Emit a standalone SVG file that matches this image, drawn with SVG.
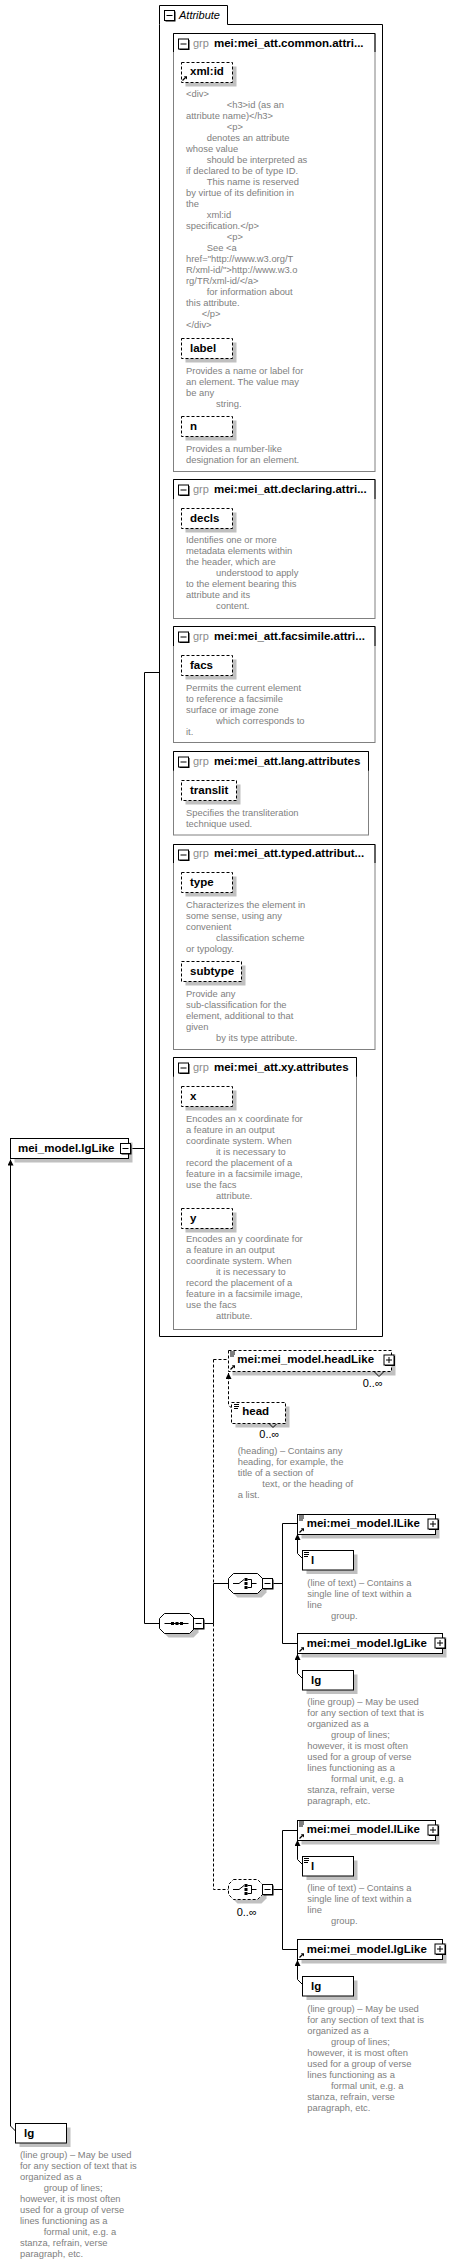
<svg xmlns="http://www.w3.org/2000/svg" xmlns:xlink="http://www.w3.org/1999/xlink" width="455" height="2267" viewBox="0 0 455 2267">
<style>
text{font-family:"Liberation Sans",Arial,sans-serif}
.d{font-size:9.4px;fill:#808080}
.b{font-size:11.5px;font-weight:bold;fill:#000}
.gt{font-size:11px;fill:#8c8c8c}
.oc{font-size:11px;fill:#000}
.ln{fill:none;stroke:#000;stroke-width:1}
.dl{fill:none;stroke:#000;stroke-width:1;stroke-dasharray:3,2}
.box{fill:#fff;stroke:#000;stroke-width:1}
.dbox{fill:#fff;stroke:#000;stroke-width:1;stroke-dasharray:3,2}
.sh{fill:#c0c0c0}
.gb{fill:#fff;stroke:#808080;stroke-width:1}
</style>
<defs>
<marker id="ar" viewBox="0 0 6 6" refX="6" refY="3" markerWidth="6" markerHeight="6" markerUnits="userSpaceOnUse" orient="auto"><path d="M0,0L6,3L0,6z" fill="#000"/></marker>
<g id="im"><rect x="1.5" y="1.5" width="10" height="10" fill="#000"/><rect x="0.5" y="0.5" width="10" height="10" fill="#fff" stroke="#000"/><path d="M2.5,5.5H8.5" stroke="#000"/></g>
<g id="ip"><rect x="1.5" y="1.5" width="10" height="10" fill="#000"/><rect x="0.5" y="0.5" width="10" height="10" fill="#fff" stroke="#000"/><path d="M2.5,5.5H8.5M5.5,2.5V8.5" stroke="#000"/></g>
<g id="ieq"><path d="M0,0.5H5M0,2.5H5M0,4.5H4" stroke="#000" stroke-width="1"/></g>
<g id="iref"><path d="M0.5,5L3.5,2" stroke="#000" stroke-width="1.2"/><path d="M1.8,0.8L5,0.8L5,4z" fill="#000"/></g>
<g id="seqi"><path d="M5,10H29" stroke="#000"/><rect x="11.5" y="8.5" width="3" height="3" fill="#000"/><rect x="16" y="8.5" width="3" height="3" fill="#000"/><rect x="20.5" y="8.5" width="3" height="3" fill="#000"/></g>
<g id="choi"><path d="M4.5,10H10.5L15.5,6" stroke="#000" fill="none"/><rect x="16" y="4.5" width="3" height="3" fill="#000"/><rect x="16" y="8.5" width="3" height="3" fill="#000"/><rect x="16" y="12.5" width="3" height="3" fill="#000"/><path d="M19,6H23V14H19M23,10H28" stroke="#000" fill="none"/></g>
</defs>

<!-- connectors -->
<g id="connectors">
<path class="ln" d="M131.5,1148.5H144.5M144.5,672.5V1623.5M144.5,672.5H159.5M144.5,1623.5H159.5M204.5,1623.5H213.5"/>
<path class="dl" d="M213.5,1359.5V1583.5M213.5,1359.5H228.5"/>
<path class="ln" d="M213.5,1583.5V1623.5M213.5,1583.5H228.5"/>
<path class="dl" d="M213.5,1623.5V1889.5H228.5"/>
<path class="ln" d="M273.5,1583.5H282.5M282.5,1523.5V1643.5M282.5,1523.5H297.5M282.5,1643.5H297.5"/>
<path class="ln" d="M273.5,1889.5H282.5M282.5,1830.5V1949.5M282.5,1830.5H297.5M282.5,1949.5H297.5"/>
<polyline class="dl" points="231.5,1408 228.5,1405 228.5,1373" marker-end="url(#ar)"/>
<polyline class="ln" points="302.5,1558.5 297.5,1553.5 297.5,1534" marker-end="url(#ar)"/>
<polyline class="ln" points="302.5,1678.5 297.5,1673.5 297.5,1654" marker-end="url(#ar)"/>
<polyline class="ln" points="302.5,1864.5 297.5,1859.5 297.5,1840" marker-end="url(#ar)"/>
<polyline class="ln" points="302.5,1984.5 297.5,1979.5 297.5,1960" marker-end="url(#ar)"/>
<polyline class="ln" points="15.5,2131 10.5,2126 10.5,1159.5" marker-end="url(#ar)"/>
</g>

<!-- top node -->
<g id="n-lgLike-root">
<rect class="sh" x="14.5" y="1142.5" width="118" height="20"/>
<rect class="box" x="10.5" y="1138.5" width="118" height="20"/>
<text class="b" x="18" y="1151.5">mei_model.lgLike</text>
<use xlink:href="#im" x="120" y="1143"/>
</g>

<!-- Attribute container -->
<g id="n-attributes">
<path d="M159.5,24.5V5.5H227.5V24.5H382.5V1336.5H159.5Z" fill="#fff" stroke="#000"/>
<use xlink:href="#im" x="164" y="10"/>
<text x="179" y="18.5" style="font-size:11px;font-style:italic">Attribute</text>
</g>

<g id="n-g1">
<rect class="gb" x="173.5" y="33.5" width="201.5" height="438"/>
<path class="ln" d="M173.5,52V33.5H375V52"/>
<use xlink:href="#im" x="178" y="38.5"/>
<text class="gt" x="193" y="46.7">grp</text>
<text class="b" x="214" y="46.7">mei:mei_att.common.attri...</text>
<g id="a-xmlid">
<rect class="sh" x="185.5" y="66.5" width="51" height="20"/>
<rect class="dbox" x="181.5" y="62.5" width="51" height="20"/>
<use xlink:href="#iref" x="182" y="75.5"/>
<text class="b" x="190" y="75.2">xml:id</text>
</g>
<text class="d" x="186" y="97">&lt;div&gt;</text>
<text class="d" x="226.7" y="108">&lt;h3&gt;id (as an</text>
<text class="d" x="186" y="119">attribute name)&lt;/h3&gt;</text>
<text class="d" x="226.7" y="130">&lt;p&gt;</text>
<text class="d" x="206.7" y="141">denotes an attribute</text>
<text class="d" x="186" y="152">whose value</text>
<text class="d" x="206.7" y="163">should be interpreted as</text>
<text class="d" x="186" y="174">if declared to be of type ID.</text>
<text class="d" x="206.7" y="185">This name is reserved</text>
<text class="d" x="186" y="196">by virtue of its definition in</text>
<text class="d" x="186" y="207">the</text>
<text class="d" x="206.7" y="218">xml:id</text>
<text class="d" x="186" y="229">specification.&lt;/p&gt;</text>
<text class="d" x="226.7" y="240">&lt;p&gt;</text>
<text class="d" x="206.7" y="251">See &lt;a</text>
<text class="d" x="186" y="262">href="http://www.w3.org/T</text>
<text class="d" x="186" y="273">R/xml-id/"&gt;http://www.w3.o</text>
<text class="d" x="186" y="284">rg/TR/xml-id/&lt;/a&gt;</text>
<text class="d" x="206.7" y="295">for information about</text>
<text class="d" x="186" y="306">this attribute.</text>
<text class="d" x="201.7" y="317">&lt;/p&gt;</text>
<text class="d" x="186" y="328">&lt;/div&gt;</text>
<g id="a-label">
<rect class="sh" x="185.5" y="342.5" width="51" height="20"/>
<rect class="dbox" x="181.5" y="338.5" width="51" height="20"/>
<text class="b" x="190" y="351.7">label</text>
</g>
<text class="d" x="186" y="374">Provides a name or label for</text>
<text class="d" x="186" y="385">an element. The value may</text>
<text class="d" x="186" y="396">be any</text>
<text class="d" x="216" y="407">string.</text>
<g id="a-n">
<rect class="sh" x="185.5" y="420.5" width="51" height="20"/>
<rect class="dbox" x="181.5" y="416.5" width="51" height="20"/>
<text class="b" x="190" y="429.7">n</text>
</g>
<text class="d" x="186" y="451.7">Provides a number-like</text>
<text class="d" x="186" y="462.7">designation for an element.</text>
</g>

<g id="n-g2">
<rect class="gb" x="173.5" y="479.5" width="201.5" height="139"/>
<path class="ln" d="M173.5,499V479.5H375V499"/>
<use xlink:href="#im" x="178" y="484.5"/>
<text class="gt" x="193" y="492.7">grp</text>
<text class="b" x="214" y="492.7">mei:mei_att.declaring.attri...</text>
<g id="a-decls">
<rect class="sh" x="185.5" y="512.5" width="51" height="20"/>
<rect class="dbox" x="181.5" y="508.5" width="51" height="20"/>
<text class="b" x="190" y="521.7">decls</text>
</g>
<text class="d" x="186" y="543.3">Identifies one or more</text>
<text class="d" x="186" y="554.3">metadata elements within</text>
<text class="d" x="186" y="565.3">the header, which are</text>
<text class="d" x="216" y="576.3">understood to apply</text>
<text class="d" x="186" y="587.3">to the element bearing this</text>
<text class="d" x="186" y="598.3">attribute and its</text>
<text class="d" x="216" y="609.3">content.</text>
</g>

<g id="n-g3">
<rect class="gb" x="173.5" y="626.5" width="201.5" height="116"/>
<path class="ln" d="M173.5,646V626.5H375V646"/>
<use xlink:href="#im" x="178" y="631.5"/>
<text class="gt" x="193" y="640">grp</text>
<text class="b" x="214" y="640">mei:mei_att.facsimile.attri...</text>
<g id="a-facs">
<rect class="sh" x="185.5" y="659.5" width="51" height="20"/>
<rect class="dbox" x="181.5" y="655.5" width="51" height="20"/>
<text class="b" x="190" y="669">facs</text>
</g>
<text class="d" x="186" y="690.7">Permits the current element</text>
<text class="d" x="186" y="701.7">to reference a facsimile</text>
<text class="d" x="186" y="712.7">surface or image zone</text>
<text class="d" x="216" y="723.7">which corresponds to</text>
<text class="d" x="186" y="734.7">it.</text>
</g>

<g id="n-g4">
<rect class="gb" x="173.5" y="751.5" width="195" height="83.5"/>
<path class="ln" d="M173.5,770.7V751.5H368.5V770.7"/>
<use xlink:href="#im" x="178" y="756.5"/>
<text class="gt" x="193" y="765">grp</text>
<text class="b" x="214" y="765">mei:mei_att.lang.attributes</text>
<g id="a-translit">
<rect class="sh" x="185.5" y="784.5" width="55" height="20"/>
<rect class="dbox" x="181.5" y="780.5" width="55" height="20"/>
<text class="b" x="190" y="793.7">translit</text>
</g>
<text class="d" x="186" y="815.7">Specifies the transliteration</text>
<text class="d" x="186" y="826.7">technique used.</text>
</g>

<g id="n-g5">
<rect class="gb" x="173.5" y="844.5" width="201.5" height="205"/>
<path class="ln" d="M173.5,863V844.5H375V863"/>
<use xlink:href="#im" x="178" y="849.5"/>
<text class="gt" x="193" y="857.4">grp</text>
<text class="b" x="214" y="857.4">mei:mei_att.typed.attribut...</text>
<g id="a-type">
<rect class="sh" x="185.5" y="876.5" width="51" height="20"/>
<rect class="dbox" x="181.5" y="872.5" width="51" height="20"/>
<text class="b" x="190" y="885.7">type</text>
</g>
<text class="d" x="186" y="907.7">Characterizes the element in</text>
<text class="d" x="186" y="918.7">some sense, using any</text>
<text class="d" x="186" y="929.7">convenient</text>
<text class="d" x="216" y="940.7">classification scheme</text>
<text class="d" x="186" y="951.7">or typology.</text>
<g id="a-subtype">
<rect class="sh" x="185.5" y="965.5" width="60" height="20"/>
<rect class="dbox" x="181.5" y="961.5" width="60" height="20"/>
<text class="b" x="190" y="975">subtype</text>
</g>
<text class="d" x="186" y="996.7">Provide any</text>
<text class="d" x="186" y="1007.7">sub-classification for the</text>
<text class="d" x="186" y="1018.7">element, additional to that</text>
<text class="d" x="186" y="1029.7">given</text>
<text class="d" x="216" y="1040.7">by its type attribute.</text>
</g>

<g id="n-g6">
<rect class="gb" x="173.5" y="1057.5" width="183" height="272"/>
<path class="ln" d="M173.5,1076.7V1057.5H356.5V1076.7"/>
<use xlink:href="#im" x="178" y="1062.5"/>
<text class="gt" x="193" y="1071">grp</text>
<text class="b" x="214" y="1071">mei:mei_att.xy.attributes</text>
<g id="a-x">
<rect class="sh" x="185.5" y="1090.5" width="51" height="20"/>
<rect class="dbox" x="181.5" y="1086.5" width="51" height="20"/>
<text class="b" x="190" y="1100">x</text>
</g>
<text class="d" x="186" y="1121.7">Encodes an x coordinate for</text>
<text class="d" x="186" y="1132.7">a feature in an output</text>
<text class="d" x="186" y="1143.7">coordinate system. When</text>
<text class="d" x="216" y="1154.7">it is necessary to</text>
<text class="d" x="186" y="1165.7">record the placement of a</text>
<text class="d" x="186" y="1176.7">feature in a facsimile image,</text>
<text class="d" x="186" y="1187.7">use the facs</text>
<text class="d" x="216" y="1198.7">attribute.</text>
<g id="a-y">
<rect class="sh" x="185.5" y="1212.5" width="51" height="20"/>
<rect class="dbox" x="181.5" y="1208.5" width="51" height="20"/>
<text class="b" x="190" y="1221.7">y</text>
</g>
<text class="d" x="186" y="1242.3">Encodes an y coordinate for</text>
<text class="d" x="186" y="1253.3">a feature in an output</text>
<text class="d" x="186" y="1264.3">coordinate system. When</text>
<text class="d" x="216" y="1275.3">it is necessary to</text>
<text class="d" x="186" y="1286.3">record the placement of a</text>
<text class="d" x="186" y="1297.3">feature in a facsimile image,</text>
<text class="d" x="186" y="1308.3">use the facs</text>
<text class="d" x="216" y="1319.3">attribute.</text>
</g>

<!-- sequence -->
<g id="n-sequence">
<polygon class="sh" points="168.5,1617.5 193.5,1617.5 198.5,1622.5 198.5,1632.5 193.5,1637.5 168.5,1637.5 163.5,1632.5 163.5,1622.5"/>
<polygon class="box" points="164.5,1613.5 189.5,1613.5 194.5,1618.5 194.5,1628.5 189.5,1633.5 164.5,1633.5 159.5,1628.5 159.5,1618.5"/>
<use xlink:href="#seqi" x="159.5" y="1613.5"/>
<use xlink:href="#im" x="193" y="1618"/>
</g>

<g id="n-headLike">
<rect class="sh" x="232.5" y="1354.5" width="163" height="21"/>
<rect class="dbox" x="228.5" y="1350.5" width="163" height="21"/>
<path d="M374.5,1372L379,1376.5L383.5,1372" fill="none" stroke="#000" stroke-width="1"/>
<use xlink:href="#ieq" x="230" y="1351.5"/>
<use xlink:href="#iref" x="230" y="1364.5"/>
<text class="b" x="237.3" y="1362.8">mei:mei_model.headLike</text>
<use xlink:href="#ip" x="383.5" y="1354.5"/>
<text class="oc" x="362.7" y="1386.7">0..∞</text>
</g>

<g id="n-head">
<rect class="sh" x="235.5" y="1406.5" width="54" height="21"/>
<rect class="dbox" x="231.5" y="1402.5" width="54" height="21"/>
<path d="M269.5,1424L273,1427.5L276.5,1424" fill="none" stroke="#000" stroke-width="1"/>
<use xlink:href="#ieq" x="234" y="1404"/>
<text class="b" x="242.3" y="1415.3">head</text>
<text class="oc" x="259.3" y="1438.3">0..∞</text>
<text class="d" x="237.7" y="1454.3">(heading) – Contains any</text>
<text class="d" x="237.7" y="1465.3">heading, for example, the</text>
<text class="d" x="237.7" y="1476.3">title of a section of</text>
<text class="d" x="262.3" y="1487.3">text, or the heading of</text>
<text class="d" x="237.7" y="1498.3">a list.</text>
</g>

<g id="n-choice1">
<polygon class="sh" points="237.5,1577.5 261.5,1577.5 266.5,1582.5 266.5,1592.5 261.5,1597.5 237.5,1597.5 232.5,1592.5 232.5,1582.5"/>
<polygon class="box" points="233.5,1573.5 257.5,1573.5 262.5,1578.5 262.5,1588.5 257.5,1593.5 233.5,1593.5 228.5,1588.5 228.5,1578.5"/>
<use xlink:href="#choi" x="228.5" y="1573.5"/>
<use xlink:href="#im" x="262" y="1578"/>
</g>

<g id="n-lLike1">
<rect class="sh" x="301.5" y="1518.5" width="138" height="20"/>
<rect class="box" x="297.5" y="1514.5" width="138" height="20"/>
<use xlink:href="#ieq" x="299" y="1515.5"/>
<use xlink:href="#iref" x="299" y="1527.5"/>
<text class="b" x="306.7" y="1527">mei:mei_model.lLike</text>
<use xlink:href="#ip" x="427.5" y="1518.5"/>
</g>
<g id="n-l1">
<rect class="sh" x="306.5" y="1554.5" width="51" height="19.5"/>
<rect class="box" x="302.5" y="1550.5" width="51" height="19.5"/>
<use xlink:href="#ieq" x="304" y="1552"/>
<text class="b" x="311" y="1563.5">l</text>
<text class="d" x="307.3" y="1585.7">(line of text) – Contains a</text>
<text class="d" x="307.3" y="1596.7">single line of text within a</text>
<text class="d" x="307.3" y="1607.7">line</text>
<text class="d" x="331" y="1618.7">group.</text>
</g>
<g id="n-lgLike1">
<rect class="sh" x="301.5" y="1637.5" width="145" height="20"/>
<rect class="box" x="297.5" y="1633.5" width="145" height="20"/>
<use xlink:href="#iref" x="299" y="1646.5"/>
<text class="b" x="306.7" y="1646.8">mei:mei_model.lgLike</text>
<use xlink:href="#ip" x="434.5" y="1637.5"/>
</g>
<g id="n-lg1">
<rect class="sh" x="306.5" y="1674.5" width="51" height="19.5"/>
<rect class="box" x="302.5" y="1670.5" width="51" height="19.5"/>
<text class="b" x="311" y="1683.5">lg</text>
<text class="d" x="307.3" y="1705">(line group) – May be used</text>
<text class="d" x="307.3" y="1716">for any section of text that is</text>
<text class="d" x="307.3" y="1727">organized as a</text>
<text class="d" x="331" y="1738">group of lines;</text>
<text class="d" x="307.3" y="1749">however, it is most often</text>
<text class="d" x="307.3" y="1760">used for a group of verse</text>
<text class="d" x="307.3" y="1771">lines functioning as a</text>
<text class="d" x="331" y="1782">formal unit, e.g. a</text>
<text class="d" x="307.3" y="1793">stanza, refrain, verse</text>
<text class="d" x="307.3" y="1804">paragraph, etc.</text>
</g>

<g id="n-choice2">
<polygon class="sh" points="237.5,1883.5 261.5,1883.5 266.5,1888.5 266.5,1898.5 261.5,1903.5 237.5,1903.5 232.5,1898.5 232.5,1888.5"/>
<polygon class="dbox" points="233.5,1879.5 257.5,1879.5 262.5,1884.5 262.5,1894.5 257.5,1899.5 233.5,1899.5 228.5,1894.5 228.5,1884.5"/>
<use xlink:href="#choi" x="228.5" y="1879.5"/>
<use xlink:href="#im" x="262" y="1884"/>
<text class="oc" x="236.7" y="1916">0..∞</text>
</g>

<g id="n-lLike2">
<rect class="sh" x="301.5" y="1824.5" width="138" height="20"/>
<rect class="box" x="297.5" y="1820.5" width="138" height="20"/>
<use xlink:href="#ieq" x="299" y="1821.5"/>
<use xlink:href="#iref" x="299" y="1833.5"/>
<text class="b" x="306.7" y="1833">mei:mei_model.lLike</text>
<use xlink:href="#ip" x="427.5" y="1824.5"/>
</g>
<g id="n-l2">
<rect class="sh" x="306.5" y="1860.5" width="51" height="19.5"/>
<rect class="box" x="302.5" y="1856.5" width="51" height="19.5"/>
<use xlink:href="#ieq" x="304" y="1858"/>
<text class="b" x="311" y="1869.5">l</text>
<text class="d" x="307.3" y="1891">(line of text) – Contains a</text>
<text class="d" x="307.3" y="1902">single line of text within a</text>
<text class="d" x="307.3" y="1913">line</text>
<text class="d" x="331" y="1924">group.</text>
</g>
<g id="n-lgLike2">
<rect class="sh" x="301.5" y="1943.5" width="145" height="20"/>
<rect class="box" x="297.5" y="1939.5" width="145" height="20"/>
<use xlink:href="#iref" x="299" y="1952.5"/>
<text class="b" x="306.7" y="1952.8">mei:mei_model.lgLike</text>
<use xlink:href="#ip" x="434.5" y="1943.5"/>
</g>
<g id="n-lg2">
<rect class="sh" x="306.5" y="1980.5" width="51" height="19.5"/>
<rect class="box" x="302.5" y="1976.5" width="51" height="19.5"/>
<text class="b" x="311" y="1989.5">lg</text>
<text class="d" x="307.3" y="2011.7">(line group) – May be used</text>
<text class="d" x="307.3" y="2022.7">for any section of text that is</text>
<text class="d" x="307.3" y="2033.7">organized as a</text>
<text class="d" x="331" y="2044.7">group of lines;</text>
<text class="d" x="307.3" y="2055.7">however, it is most often</text>
<text class="d" x="307.3" y="2066.7">used for a group of verse</text>
<text class="d" x="307.3" y="2077.7">lines functioning as a</text>
<text class="d" x="331" y="2088.7">formal unit, e.g. a</text>
<text class="d" x="307.3" y="2099.7">stanza, refrain, verse</text>
<text class="d" x="307.3" y="2110.7">paragraph, etc.</text>
</g>

<g id="n-lg-root">
<rect class="sh" x="19.5" y="2127.5" width="51" height="19.5"/>
<rect class="box" x="15.5" y="2123.5" width="51" height="19.5"/>
<text class="b" x="24" y="2136.5">lg</text>
<text class="d" x="20" y="2158">(line group) – May be used</text>
<text class="d" x="20" y="2169">for any section of text that is</text>
<text class="d" x="20" y="2180">organized as a</text>
<text class="d" x="43.7" y="2191">group of lines;</text>
<text class="d" x="20" y="2202">however, it is most often</text>
<text class="d" x="20" y="2213">used for a group of verse</text>
<text class="d" x="20" y="2224">lines functioning as a</text>
<text class="d" x="43.7" y="2235">formal unit, e.g. a</text>
<text class="d" x="20" y="2246">stanza, refrain, verse</text>
<text class="d" x="20" y="2257">paragraph, etc.</text>
</g>
</svg>
